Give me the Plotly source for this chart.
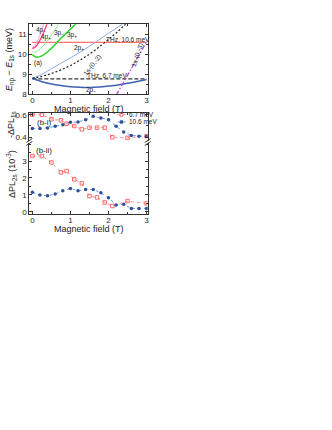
import plotly.graph_objects as go

# ---- panel (a): transition energies vs magnetic field ----
b_grid = [0, 0.25, 0.5, 0.75, 1.0, 1.25, 1.5, 1.75, 2.0, 2.25, 2.5, 2.75, 3.0]
e_2pm = [8.80, 8.63, 8.52, 8.44, 8.38, 8.35, 8.34, 8.36, 8.41, 8.47, 8.55, 8.64, 8.74]
b_2pp = [0, 0.25, 0.5, 0.75, 1.0, 1.25, 1.5, 1.75, 2.0, 2.25, 2.5]
e_2pp = [8.80, 9.00, 9.28, 9.55, 9.82, 10.10, 10.40, 10.72, 11.05, 11.36, 11.68]
b_1s2 = [0, 0.25, 0.5, 0.75, 1.0, 1.25, 1.5, 1.75, 2.0, 2.25, 2.5]
e_1s2 = [8.80, 8.90, 9.04, 9.22, 9.44, 9.71, 10.01, 10.36, 10.74, 11.15, 11.60]
b_1s3 = [2.2, 2.6, 3.0]
e_1s3 = [7.95, 9.28, 10.62]
b_3pp = [0, 0.1, 0.25, 0.5, 0.75, 1.0, 1.25]
e_3pp = [9.98, 9.86, 9.92, 10.30, 10.80, 11.25, 11.75]
b_3pm = [0, 0.1, 0.25, 0.5, 0.75]
e_3pm = [10.12, 10.13, 10.35, 10.95, 11.70]
b_4pp = [0, 0.1, 0.2, 0.3, 0.4]
e_4pp = [10.28, 10.40, 10.70, 11.10, 11.60]
b_4pm = [0, 0.1, 0.2, 0.3]
e_4pm = [10.35, 10.55, 10.95, 11.55]
thz_b = [0, 3.0]
thz_hi = [10.6, 10.6]
thz_lo = [8.77, 8.77]

# ---- panel (b): PL changes ----
b_red = [0, 0.25, 0.5, 0.75, 0.9, 1.1, 1.3, 1.5, 1.7, 1.9, 2.1, 2.5, 3.0]
pl1s_red = [0.60, 0.60, 0.56, 0.55, 0.52, 0.50, 0.47, 0.485, 0.485, 0.485, 0.40, 0.395, 0.41]
pl2s_red = [3.30, 3.30, 2.92, 2.33, 2.41, 1.92, 1.68, 0.93, 0.85, 0.55, 0.34, 0.63, 0.50]
b_blue = [0, 0.2, 0.4, 0.6, 0.8, 1.0, 1.2, 1.4, 1.6, 1.8, 2.0, 2.2, 2.4, 2.6, 2.8, 3.0]
pl1s_blue = [0.477, 0.477, 0.483, 0.498, 0.512, 0.533, 0.536, 0.556, 0.586, 0.571,
             0.556, 0.498, 0.447, 0.415, 0.41, 0.41]
pl2s_blue = [1.15, 0.99, 0.95, 1.05, 1.24, 1.38, 1.24, 1.32, 1.32, 1.12,
             0.83, 0.40, 0.44, 0.20, 0.20, 0.20]
legend_names = ["6.7 meV", "10.6 meV"]

W, H = 332, 430


def px(x):
    return x / W


def py(y):
    return 1 - y / H


fig = go.Figure()

def curve(x, y, color, width, dash="solid", ax="", shape="spline"):
    fig.add_trace(go.Scatter(x=x, y=y, mode="lines", showlegend=False,
                             line=dict(color=color, width=width, dash=dash, shape=shape),
                             xaxis="x" + ax, yaxis="y" + ax))

curve(thz_b, thz_hi, "#ff7070", 1.2, shape="linear")
curve(thz_b, thz_lo, "#333333", 1.1, dash="4px,2px", shape="linear")
curve(b_grid, e_2pm, "#3d62b3", 1.5)
curve(b_2pp, e_2pp, "#8ea8e3", 1.0)
curve(b_1s2, e_1s2, "#222222", 1.2, dash="2px,2px")
curve(b_1s3, e_1s3, "#c040f0", 1.3, dash="5px,2px,1.5px,2px")
curve(b_3pp, e_3pp, "#2fd42f", 1.6)
curve(b_3pm, e_3pm, "#90ee90", 1.0)
curve(b_4pp, e_4pp, "#ff3d8b", 1.3)
curve(b_4pm, e_4pm, "#ff9cc8", 1.0)

red = "#ff6b6b"
red_line = "#ff8a8a"
blue = "#2c4f9e"
blue_line = "#7c98d6"
red_marker = dict(symbol="square-open", size=3.5, color=red, line=dict(width=1))
blue_marker = dict(symbol="circle", size=3.5, color=blue)
for ax, yr, yb in (("2", pl1s_red, pl1s_blue), ("3", pl2s_red, pl2s_blue)):
    fig.add_trace(go.Scatter(x=b_red, y=yr, mode="lines+markers", showlegend=False,
                             line=dict(color=red_line, width=1, dash="dot"), marker=red_marker,
                             xaxis="x" + ax, yaxis="y" + ax))
    fig.add_trace(go.Scatter(x=b_blue, y=yb, mode="lines+markers", showlegend=False,
                             line=dict(color=blue_line, width=1, dash="dot"), marker=blue_marker,
                             xaxis="x" + ax, yaxis="y" + ax))

tickfont = dict(family="Liberation Sans, Arial, sans-serif", size=8, color="#222")
axis_common = dict(showgrid=False, zeroline=False, showline=True, linecolor="#333",
                   linewidth=1, ticks="inside", ticklen=3, tickcolor="#333", tickfont=tickfont,
                   automargin=False)
xdom = [px(29.3), px(147.7)]
xcommon = dict(axis_common, range=[-0.08, 3.03], tickvals=[0, 1, 2, 3], domain=xdom,
               ticklabelstandoff=-2,
               minor=dict(ticks="inside", ticklen=2, dtick=0.5, tickcolor="#333"))

title_font = dict(family="Liberation Sans, Arial, sans-serif", size=9, color="#222")

fig.update_layout(
    width=W, height=H, margin=dict(l=0, r=0, t=0, b=0, pad=0, autoexpand=False),
    paper_bgcolor="white", plot_bgcolor="white", showlegend=False,
    font=dict(family="Liberation Sans, Arial, sans-serif", color="#222"),
    xaxis=dict(xcommon, anchor="y", mirror="ticks"),
    yaxis=dict(axis_common, domain=[py(94.3), py(24.3)], range=[8, 11.5], anchor="x",
               tickvals=[8, 9, 10, 11], mirror="ticks",
               minor=dict(ticks="inside", ticklen=2, dtick=0.5, tickcolor="#333")),
    xaxis2=dict(xcommon, anchor="y2", side="top", showticklabels=False, mirror=False),
    yaxis2=dict(axis_common, domain=[py(141), py(113)], range=[0.367, 0.615], anchor="x2",
                tickvals=[0.4, 0.6], ticktext=["0.4", "0.6"], mirror="ticks",
                minor=dict(ticks="inside", ticklen=2, dtick=0.1, tickcolor="#333")),
    xaxis3=dict(xcommon, anchor="y3", mirror=False),
    yaxis3=dict(axis_common, domain=[py(214.3), py(143)], range=[-0.15, 4.07], anchor="x3",
                tickvals=[0, 1, 2, 3], mirror="ticks",
                minor=dict(ticks="inside", ticklen=2, dtick=0.5, tickcolor="#333")),
)

small = dict(family="Liberation Sans, Arial, sans-serif", size=6.5, color="#222")
labels_a = [
    ("4p<sub>−</sub>", 0.22, 11.2, 0),
    ("4p<sub>+</sub>", 0.36, 10.85, 0),
    ("3p<sub>−</sub>", 0.70, 11.05, 0),
    ("3p<sub>+</sub>", 1.05, 10.98, 0),
    ("2p<sub>+</sub>", 1.22, 10.3, 0),
    ("2p<sub>−</sub>", 1.53, 8.2, 0),
    ("(a)", 0.16, 9.55, 0),
    ("THz, 10.6 meV", 2.52, 10.72, 0),
    ("THz, 6.7 meV", 1.97, 8.93, 0),
    ("1s-(0,-2)", 1.58, 9.47, -52),
    ("1s-(0,-3)", 2.76, 9.97, -72),
]
for text, x, y, ang in labels_a:
    fig.add_annotation(text=text, x=x, y=y, xref="x", yref="y", showarrow=False,
                       textangle=ang, font=small)

fig.add_annotation(text="(b-i)", x=0.33, y=0.53, xref="x2", yref="y2", showarrow=False,
                   font=dict(size=8, color="#222"))
fig.add_annotation(text="(b-ii)", x=0.3, y=3.6, xref="x3", yref="y3", showarrow=False,
                   font=dict(size=8, color="#222"))

# axis titles
for yy in (108.5, 228.5):
    fig.add_annotation(text="Magnetic field (T)", x=px(88.5), y=py(yy), xref="paper",
                       yref="paper", showarrow=False, xanchor="center", yanchor="middle",
                       font=title_font)
ytitles = [
    ("<i>E</i><sub>np</sub> − <i>E</i><sub>1s</sub> (meV)", 10, 60),
    ("-ΔPL<sub>1s</sub>", 11, 125),
    ("ΔPL<sub>2s</sub> (10<sup>-3</sup>)", 11, 174),
]
for text, xx, yy in ytitles:
    fig.add_annotation(text=text, x=px(xx), y=py(yy), xref="paper", yref="paper",
                       showarrow=False, textangle=-90, xanchor="center", yanchor="middle",
                       font=title_font)

# legend of panel (b-i), drawn by hand to keep the entries tight
for name, yy, col, lcol, kind in ((legend_names[0], 114.7, red, red_line, "square"),
                                  (legend_names[1], 122, blue, blue_line, "circle")):
    fig.add_shape(type="line", xref="paper", yref="paper", x0=px(117.5), x1=px(125.5),
                  y0=py(yy), y1=py(yy), line=dict(color=lcol, width=1, dash="dot"))
    if kind == "square":
        fig.add_shape(type="rect", xref="paper", yref="paper", x0=px(120), x1=px(123),
                      y0=py(yy + 1.5), y1=py(yy - 1.5), line=dict(color=col, width=1),
                      fillcolor="white")
    else:
        fig.add_shape(type="circle", xref="paper", yref="paper", x0=px(119.8), x1=px(123.2),
                      y0=py(yy + 1.7), y1=py(yy - 1.7), line=dict(color=col, width=0.5),
                      fillcolor=col)
    fig.add_annotation(text=name, x=px(126.5), y=py(yy), xref="paper", yref="paper",
                       showarrow=False, xanchor="left", yanchor="middle",
                       font=dict(size=6.5, color="#222"))

# axis break marks
for xb in (29.3, 147.7):
    for yb in (140.5, 143.5):
        fig.add_shape(type="line", xref="paper", yref="paper",
                      x0=px(xb - 3), y0=py(yb + 2), x1=px(xb + 3), y1=py(yb - 2),
                      line=dict(color="#333", width=1))

fig.write_html("out.html", config={"displayModeBar": False},
               post_script="document.body.style.margin='0';")
